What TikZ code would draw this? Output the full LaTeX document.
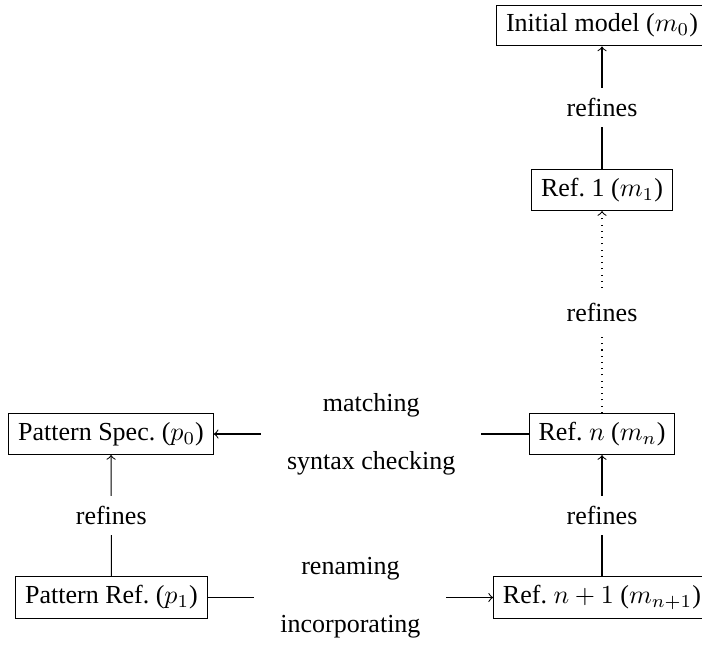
\documentclass[tikz,border=0pt]{standalone}
\usepackage{fontspec}
\setmainfont{Liberation Serif}
\begin{document}
\begin{tikzpicture}[x=0.3846pt,y=-0.3846pt,
  box/.style={draw, inner xsep=3.6pt, inner ysep=3.33pt},
  elab/.style={fill=white, inner xsep=3pt, inner ysep=4pt},
  hlab/.style={fill=white, align=center, inner xsep=10pt},
  >=to]
\useasboundingbox (0,0) rectangle (702,651);
\node[box] (m0) at (602,25.5) {Initial model ($m_0$)};
\node[box] (m1) at (602,190) {Ref.~1 ($m_1$)};
\node[box] (mn) at (602,434) {Ref.~$n$ ($m_n$)};
\node[box] (mn1) at (602,597.5) {Ref.~$n+1$ ($m_{n+1}$)};
\node[box] (p0) at (111,434) {Pattern Spec.~($p_0$)};
\node[box] (p1) at (111.5,597.5) {Pattern Ref.~($p_1$)};
\draw[->] (m1) -- node[elab]{refines} (m0);
\draw[->,dotted] (mn) -- node[elab]{refines} (m1);
\draw[->] (mn1) -- node[elab]{refines} (mn);
\draw[->] (p1) -- node[elab]{refines} (p0);
\draw[->] (mn) -- node[hlab]{matching\\[10.3pt]syntax checking} (p0);
\draw[->] (p1) -- node[hlab]{renaming\\[10.3pt]incorporating} (mn1);
\end{tikzpicture}
\end{document}
